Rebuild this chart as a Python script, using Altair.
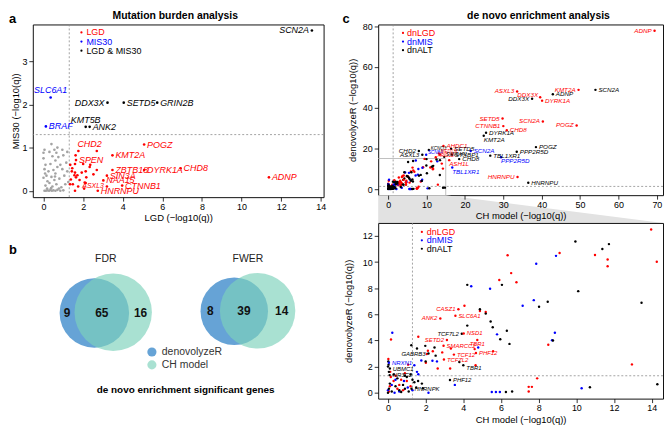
import altair as alt
import pandas as pd

FONT = "Liberation Sans"
NARROW = "Liberation Sans Narrow, Liberation Sans"
RED, BLUE, BLACK, GRAY = "#ff0000", "#0000ff", "#000000", "#a3a3a3"
VENN_BLUE, VENN_TEAL, VENN_TEAL_KEY = "#66a3d6", "#7dd2bb", "#a9e1d2"

# ---------------- panel a : mutation burden (LGD vs MIS30) ----------------
a_gene = ["SCN2A", "SLC6A1", "BRAF", "DDX3X", "SETD5", "GRIN2B", "KMT5B", "ANK2",
          "POGZ", "CHD2", "SPEN", "KMT2A", "ZBTB18", "DYRK1A", "CHD8", "ADNP",
          "SIN3A", "NAA15", "CTNNB1", "ASXL3", "HNRNPU"]
a_lgd = [13.55, 0.36, 0.12, 3.23, 4.05, 5.74, 2.13, 2.33, 5.08, 1.76, 1.64, 3.48,
         3.48, 5.08, 6.92, 11.38, 3.20, 3.02, 3.97, 3.20, 2.74]
a_mis = [3.71, 2.16, 1.49, 2.04, 2.04, 2.04, 1.48, 1.48, 1.07, 0.92, 0.71, 0.82,
         0.48, 0.48, 0.52, 0.31, 0.35, 0.24, 0.12, 0.10, 0.00]
a_set = (["LGD & MIS30", "MIS30", "MIS30", "LGD & MIS30", "LGD & MIS30", "LGD & MIS30",
          "LGD & MIS30", "LGD & MIS30"] + ["LGD"] * 13)
a_side = ["l", "u", "r", "l", "r", "r", "u", "r", "r", "ur", "r", "r", "r", "r", "r",
          "r", "r", "r", "r", "ls", "r"]

a_lgd_only_x = [2.69, 1.62, 1.59, 1.35, 2.00, 2.36, 2.33, 2.69, 1.43, 1.59, 1.93, 1.56, 1.71,
                1.64, 2.13, 2.16, 1.38, 2.08, 2.13, 1.34, 1.48, 2.05, 1.59, 1.82, 2.52, 1.45, 1.75]
a_lgd_only_y = [0.92, 0.82, 0.62, 0.60, 0.62, 0.60, 0.55, 0.48, 0.45, 0.42, 0.42, 0.36, 0.36,
                0.31, 0.45, 0.31, 0.26, 0.19, 0.18, 0.15, 0.15, 0.05, 0.00, 0.25, 0.38, 0.52, 0.10]

a_ns_x = [0.05, 0.12, 0.20, 0.28, 0.35, 0.42, 0.50, 0.60, 0.70, 0.85, 1.00,
          0.10, 0.30, 0.45, 0.65, 0.90, 1.10, 0.20, 0.55,
          0.00, 0.15, 0.40, 0.60, 0.80, 1.05, 1.20, 0.25, 0.50, 0.95, 0.05, 0.70,
          0.10, 0.35, 0.60, 0.85, 1.15, 0.00, 0.45, 0.75, 1.00,
          0.05, 0.30, 0.40, 0.55, 0.70, 0.95, 1.20, 0.00, 0.65,
          0.18, 0.38, 0.78, 1.25, 0.08, 0.58]
a_ns_y = [0.00, 0.00, 0.01, 0.00, 0.02, 0.00, 0.01, 0.00, 0.02, 0.00, 0.01,
          0.12, 0.18, 0.10, 0.15, 0.08, 0.15, 0.22, 0.25,
          0.30, 0.35, 0.32, 0.40, 0.28, 0.35, 0.45, 0.45, 0.48, 0.50, 0.50, 0.55,
          0.60, 0.62, 0.70, 0.60, 0.65, 0.75, 0.80, 0.78, 0.82,
          0.95, 0.90, 1.08, 0.95, 1.00, 0.95, 0.90, 0.88, 0.88,
          0.05, 0.06, 0.05, 0.20, 0.40, 0.33]

a_legend = ["LGD", "MIS30", "LGD & MIS30"]

# ---------------- panel b : Venn counts ----------------
venn_sets = ["FDR", "FWER"]
venn_only_dnr = [9, 8]
venn_both = [65, 39]
venn_only_ch = [16, 14]
venn_groups = ["denovolyzeR", "CH model"]

# ---------------- panel c : de novo enrichment (CH model vs denovolyzeR) ----------------
c_legend = ["dnLGD", "dnMIS", "dnALT"]

c_top_labels = [
    ("ADNP", "dnLGD", 69.4, 77.7, "l"), ("ASXL3", "dnLGD", 33.6, 47.9, "l"),
    ("KMT2A", "dnLGD", 49.6, 48.7, "l"), ("SCN2A", "dnALT", 54.0, 48.7, "r"),
    ("DDX3X", "dnLGD", 39.6, 45.1, "lu"), ("ADNP", "dnALT", 42.9, 46.5, "r"),
    ("DDX3X", "dnALT", 37.5, 44.3, "l"), ("DYRK1A", "dnLGD", 40.1, 43.4, "r"),
    ("SETD5", "dnLGD", 29.8, 34.6, "l"), ("SCN2A", "dnLGD", 40.3, 33.2, "l"),
    ("POGZ", "dnLGD", 49.1, 31.2, "l"), ("CTNNB1", "dnLGD", 30.0, 30.9, "l"),
    ("CHD8", "dnLGD", 30.9, 28.9, "r"), ("DYRK1A", "dnALT", 25.5, 27.6, "r"),
    ("KMT2A", "dnALT", 24.9, 26.2, "d"), ("POGZ", "dnALT", 38.5, 20.6, "r"),
    ("PPP2R5D", "dnALT", 33.5, 18.3, "r"), ("TBL1XR1", "dnALT", 26.6, 16.4, "r"),
    ("PPP2R5D", "dnMIS", 29.4, 15.6, "d"), ("HNRNPU", "dnLGD", 33.7, 5.9, "l"),
    ("HNRNPU", "dnALT", 36.5, 3.1, "r"), ("AHDC1", "dnLGD", 14.4, 21.1, "r"),
    ("SETD5", "dnALT", 16.4, 19.8, "r"), ("SCN2A", "dnMIS", 21.5, 18.7, "r"),
    ("CHD2", "dnALT", 8.0, 18.7, "l"), ("ASXL3", "dnALT", 8.9, 16.8, "l"),
    ("STXBP1", "dnALT", 16.6, 16.9, "r"), ("ASH1L", "dnLGD", 15.9, 14.2, "d"),
    ("CHD8", "dnALT", 18.5, 14.7, "r"), ("TBL1XR1", "dnMIS", 16.7, 10.6, "d"),
    ("KCNQ3", "dnALT", 10.6, 19.2, "t"), ("SCN8A", "dnMIS", 9.9, 16.8, "t"),
    ("ARID1B", "dnLGD", 12.4, 15.6, "t"), ("MED13L", "dnLGD", 13.2, 17.5, "t"),
    ("SYNGAP1", "dnALT", 14.6, 15.8, "t"),
]

c_bottom_labels = [
    ("CASZ1", "dnLGD", 3.74, 6.39, "l"), ("SLC6A1", "dnLGD", 3.58, 5.89, "r"),
    ("ANK2", "dnLGD", 2.78, 5.69, "l"), ("TCF7L2", "dnALT", 3.92, 4.52, "l"),
    ("NSD1", "dnLGD", 4.02, 4.54, "r"), ("SETD2", "dnLGD", 3.13, 4.04, "l"),
    ("TBR1", "dnLGD", 4.74, 4.04, "dc"), ("SMARCC2", "dnLGD", 2.95, 3.60, "r"),
    ("TCF12", "dnLGD", 3.50, 2.92, "r"), ("PHF12", "dnLGD", 4.67, 3.04, "r"),
    ("TCF7L2", "dnLGD", 2.97, 2.54, "r"), ("GABRB3", "dnALT", 2.15, 3.00, "l"),
    ("TBR1", "dnALT", 4.00, 2.10, "rd"), ("NRXN1", "dnMIS", 0.05, 2.30, "r"),
    ("UBMC1", "dnALT", 0.10, 1.85, "r"), ("NR3C2", "dnALT", 0.09, 1.35, "r"),
    ("PHF12", "dnALT", 3.29, 0.97, "r"), ("HNRNPK", "dnALT", 1.25, 0.30, "r"),
]

c_lgd_pts = [(13.97, 12.5), (9.11, 10.7), (6.35, 10.53), (10.99, 10.55), (11.66, 10.2),
             (14.27, 10.03), (11.66, 9.68), (6.54, 9.16), (5.91, 8.63), (6.82, 8.46),
             (4.06, 6.66), (4.88, 6.26), (5.19, 6.19), (0.16, 4.07), (1.61, 4.29),
             (8.51, 3.67), (4.60, 3.34), (3.34, 3.39), (5.58, 3.17), (2.12, 3.22),
             (2.38, 3.17), (2.06, 2.97), (2.88, 3.09), (2.01, 2.30), (2.64, 1.85),
             (3.30, 1.85), (4.65, 2.10), (12.95, 2.17), (1.07, 2.15), (0.02, 2.59),
             (0.12, 1.60), (7.92, 1.10), (7.47, 0.45), (7.64, 0.45), (7.47, 0.10),
             (0.05, 0.10), (0.10, 0.50), (0.30, 0.90), (0.50, 0.30), (0.70, 1.00),
             (0.80, 0.20), (1.00, 0.90), (1.20, 0.50), (0.15, 1.20), (0.60, 0.60),
             (0.90, 1.50), (0.40, 1.30), (11.2, 13.6), (9.5, 14.8), (13.5, 17.0)]
c_mis_pts = [(8.92, 10.48), (7.87, 9.88), (4.42, 8.16), (5.42, 7.96), (7.74, 7.09),
             (7.15, 6.66), (5.79, 4.47), (0.23, 4.59), (8.86, 4.59), (8.71, 4.02),
             (4.79, 3.47), (1.77, 2.47), (2.36, 2.45), (2.60, 2.40), (1.40, 2.10),
             (1.61, 1.42), (1.54, 1.60), (3.55, 0.60), (10.28, 0.35), (5.51, 0.05),
             (5.73, 0.05), (5.94, 0.05), (2.15, 0.00), (0.00, 0.20), (0.20, 0.60),
             (0.40, 1.00), (0.60, 0.10), (0.85, 0.90), (1.05, 0.40), (1.30, 0.20),
             (0.35, 0.00), (12.8, 13.6), (7.2, 14.0)]
c_alt_pts = [(9.95, 11.58), (11.73, 11.38), (11.38, 11.0), (4.21, 8.26), (6.05, 8.26),
             (10.10, 7.78), (8.48, 6.96), (13.46, 6.89), (8.02, 6.59), (4.88, 6.39),
             (5.19, 6.06), (4.21, 5.14), (5.45, 5.46), (5.56, 5.01), (6.31, 4.74),
             (8.76, 4.00), (5.96, 4.09), (6.45, 3.74), (1.24, 3.64), (1.54, 3.39),
             (1.98, 3.59), (2.47, 3.47), (2.53, 2.84), (2.00, 2.40), (3.79, 2.35),
             (0.03, 2.15), (10.72, 0.42), (14.30, 0.65), (14.79, 0.70), (6.26, 0.05),
             (6.59, 0.10), (1.85, 0.35), (0.00, 0.00), (0.05, 0.30), (0.10, 0.70),
             (0.20, 0.10), (0.40, 0.50), (0.50, 1.10), (0.60, 0.20), (0.80, 0.60),
             (0.90, 0.30), (1.00, 1.20), (1.10, 0.10), (1.30, 1.00), (1.40, 0.80),
             (1.50, 0.40), (0.30, 1.40), (0.05, 1.60), (0.00, 2.00), (0.90, 1.30),
             (1.20, 1.40), (0.70, 0.05), (0.02, 2.40), (1.60, 0.90), (1.80, 0.70),
             (12.6, 14.5), (6.5, 13.8), (10.0, 14.7), (13.5, 14.2), (5.2, 13.3)]

# ---------------- layout / style (not data) ----------------
WA, HA = 293, 174
WB, HB = 293, 172
WC, HC1, HC2 = 287, 172, 177
ROW_GAP, COL_GAP = 26, 55
GAP_C = HA + ROW_GAP - HC1
A_X, A_Y = [-0.54, 14.14], [-0.148, 3.85]
CT_X, CT_Y = [-2.6, 71.6], [-3.0, 80.8]
CB_X, CB_Y = [-0.52, 14.6], [-0.45, 13.0]
ZOOM_EDGE = 15
SIG = 1.3

SIDE_STYLE = {
    "r": ("left", 3, 0), "l": ("right", -3, 0), "u": ("center", 0, -7),
    "ur": ("left", -1, -7), "d": ("left", 0, 6), "dc": ("center", 0, 6),
    "lu": ("right", -2, -3), "rd": ("left", 3, 4), "ls": ("right", -3, 0),
    "t": ("left", 2, -2),
}


def enc_x(dom, ticks, title):
    return alt.X("x:Q", scale=alt.Scale(domain=dom, nice=False, zero=False),
                 axis=alt.Axis(values=ticks, title=title))


def enc_y(dom, ticks, title, tpad):
    return alt.Y("y:Q", scale=alt.Scale(domain=dom, nice=False, zero=False),
                 axis=alt.Axis(values=ticks, title=title, titlePadding=tpad, labelPadding=2))


def text_at(txt, x, y, size, color=BLACK, weight="normal", align="left", font=FONT):
    return alt.Chart(pd.DataFrame({"t": [txt]})).mark_text(
        align=align, baseline="middle", font=font, fontSize=size, fontWeight=weight,
        color=color).encode(x=alt.value(x), y=alt.value(y), text="t:N")


def dot_at(x, y, color):
    return alt.Chart(pd.DataFrame({"t": [0]})).mark_circle(
        size=5, color=color, opacity=1).encode(x=alt.value(x), y=alt.value(y))


def legend_layers(labels, colors, xm, xt, y0, dy):
    out = []
    for i, (lab, col) in enumerate(zip(labels, colors)):
        out.append(dot_at(xm, y0 + i * dy, col))
        out.append(text_at(lab, xt, y0 + i * dy, 9, col, font=NARROW))
    return out


def label_layers(df, xe, ye, color, fs, small, k, clip):
    out = []
    for side in df["side"].unique():
        align, dx, dy = SIDE_STYLE[side]
        size = small.get(side, fs)
        out.append(alt.Chart(df[df["side"] == side]).mark_text(
            align=align, baseline="middle", dx=dx, dy=dy * k, font=NARROW, fontSize=size,
            fontStyle="italic", clip=clip).encode(x=xe, y=ye, text="gene:N", color=color))
    return out


def rule_layers(xe, ye, clip):
    style = dict(color="#8c8c8c", strokeDash=[2, 2], strokeWidth=0.8, clip=clip)
    return [alt.Chart(pd.DataFrame({"x": [SIG]})).mark_rule(**style).encode(x=xe),
            alt.Chart(pd.DataFrame({"y": [SIG]})).mark_rule(**style).encode(y=ye)]


def header(txt, letter, w, dx_title, x_letter):
    return [text_at(txt, w / 2 + dx_title, -9, 10.5, weight="bold", align="center"),
            text_at(letter, x_letter, -5, 13, weight="bold")]


# ---------------- panel a ----------------
df_a = pd.concat([
    pd.DataFrame({"x": a_ns_x, "y": a_ns_y, "set": "none"}),
    pd.DataFrame({"x": a_lgd_only_x, "y": a_lgd_only_y, "set": "LGD"}),
    pd.DataFrame({"x": a_lgd, "y": a_mis, "set": a_set}),
], ignore_index=True)
df_a_lab = pd.DataFrame({"x": a_lgd, "y": a_mis, "set": a_set, "gene": a_gene, "side": a_side})
col_a = alt.Color("set:N", legend=None, scale=alt.Scale(
    domain=["none", "LGD", "MIS30", "LGD & MIS30"], range=[GRAY, RED, BLUE, BLACK]))
xa = enc_x(A_X, list(range(0, 15, 2)), "LGD (\u2212log10(q))")
ya = enc_y(A_Y, [0, 1, 2, 3], "MIS30 (\u2212log10(q))", 1)

chart_a = alt.layer(
    *rule_layers(xa, ya, False),
    alt.Chart(df_a).mark_circle(size=7, opacity=1).encode(x=xa, y=ya, color=col_a),
    *label_layers(df_a_lab, xa, ya, col_a, 9, {"ls": 7}, 1.0, False),
    *legend_layers(a_legend, [RED, BLUE, BLACK], 49, 54, 8, 9.2),
    *header("Mutation burden analysis", "a", WA, -3, -24),
).properties(width=WA, height=HA)

# ---------------- panel b (Venn diagrams, pixel canvas) ----------------
venn_geo = {  # blue circle (cx, cy, r), teal circle (cx, cy, r)
    "FDR": ((62, 90.7, 35), (81, 90, 39)),
    "FWER": ((203, 89, 34), (226.5, 88.5, 38)),
}
bx = alt.X("x:Q", scale=alt.Scale(domain=[0, WB], nice=False, zero=False), axis=None)
by = alt.Y("y:Q", scale=alt.Scale(domain=[0, HB], nice=False, zero=False, reverse=True), axis=None)

circ_blue = pd.DataFrame([{"x": venn_geo[s][0][0], "y": venn_geo[s][0][1],
                           "s": 4 * venn_geo[s][0][2] ** 2} for s in venn_sets])
circ_teal = pd.DataFrame([{"x": venn_geo[s][1][0], "y": venn_geo[s][1][1],
                           "s": 4 * venn_geo[s][1][2] ** 2} for s in venn_sets])
count_rows, title_rows = [], []
for i, s in enumerate(venn_sets):
    (bcx, bcy, br), (tcx, tcy, tr) = venn_geo[s]
    yy = (bcy + tcy) / 2
    edges = [bcx - br, tcx - tr, bcx + br, tcx + tr]
    for val, a0, a1 in [(venn_only_dnr[i], edges[0], edges[1]),
                        (venn_both[i], edges[1], edges[2]),
                        (venn_only_ch[i], edges[2], edges[3])]:
        count_rows.append({"x": (a0 + a1) / 2, "y": yy, "t": str(val)})
    title_rows.append({"x": (edges[0] + edges[3]) / 2, "y": 36, "t": s})
key_rows = pd.DataFrame({"x": [120, 120], "y": [130, 143], "g": venn_groups})

chart_b = alt.layer(
    alt.Chart(circ_blue).mark_circle(color=VENN_BLUE, opacity=1).encode(
        x=bx, y=by, size=alt.Size("s:Q", scale=None)),
    alt.Chart(circ_teal).mark_circle(color=VENN_TEAL, opacity=0.66).encode(
        x=bx, y=by, size=alt.Size("s:Q", scale=None)),
    alt.Chart(pd.DataFrame(count_rows)).mark_text(
        font=FONT, fontSize=12, fontWeight="bold", color="#111111").encode(x=bx, y=by, text="t:N"),
    alt.Chart(pd.DataFrame(title_rows)).mark_text(
        font=FONT, fontSize=10.5, color="#222222").encode(x=bx, y=by, text="t:N"),
    alt.Chart(key_rows).mark_circle(size=85, opacity=1).encode(
        x=bx, y=by, color=alt.Color("g:N", legend=None, scale=alt.Scale(
            domain=venn_groups, range=[VENN_BLUE, VENN_TEAL_KEY]))),
    alt.Chart(key_rows).mark_text(align="left", dx=10, font=FONT, fontSize=10.5,
                                  color="#333333").encode(x=bx, y=by, text="g:N"),
    text_at("de novo enrichment significant genes", 154, 168, 10, weight="bold", align="center"),
    text_at("b", -24, 27, 13, weight="bold"),
).properties(width=WB, height=HB, view=alt.ViewBackground(strokeOpacity=0))

# ---------------- panel c data frames ----------------
rows = []
for typ, pts in [("dnLGD", c_lgd_pts), ("dnMIS", c_mis_pts), ("dnALT", c_alt_pts)]:
    rows += [{"x": x, "y": y, "type": typ} for x, y in pts]
for lst in (c_top_labels, c_bottom_labels):
    rows += [{"x": x, "y": y, "type": t} for _, t, x, y, _ in lst]
df_c = pd.DataFrame(rows)
df_ct_lab = pd.DataFrame(c_top_labels, columns=["gene", "type", "x", "y", "side"])
df_cb_lab = pd.DataFrame(c_bottom_labels, columns=["gene", "type", "x", "y", "side"])
col_c = alt.Color("type:N", legend=None, scale=alt.Scale(domain=c_legend, range=[RED, BLUE, BLACK]))

# top: full range
xct = alt.X("x:Q", scale=alt.Scale(domain=CT_X, nice=False, zero=False),
            axis=alt.Axis(values=list(range(0, 71, 10)), title="CH model (\u2212log10(q))", zindex=1))
yct = enc_y(CT_Y, [0, 20, 40, 60, 80], "denovolyzeR (\u2212log10(q))", 5)
trap_y = CT_Y[0] - GAP_C * (CT_Y[1] - CT_Y[0]) / HC1
trap = pd.DataFrame({"y": [CT_Y[0], trap_y], "x": [CT_X[0], CT_X[0]], "x2": [ZOOM_EDGE, CT_X[1]]})

chart_ct = alt.layer(
    alt.Chart(trap).mark_area(orient="horizontal", color="#e2e2e2", clip=False).encode(
        y=yct, x=alt.X("x:Q", stack=False, scale=alt.Scale(domain=CT_X, nice=False, zero=False)),
        x2="x2:Q"),
    alt.Chart(pd.DataFrame({"x": [CT_X[0]], "x2": [ZOOM_EDGE], "y": [ZOOM_EDGE]})).mark_rule(
        color="#b0b0b0", strokeWidth=0.8).encode(x=xct, x2="x2:Q", y=yct),
    alt.Chart(pd.DataFrame({"x": [ZOOM_EDGE], "y": [CT_Y[0]], "y2": [ZOOM_EDGE]})).mark_rule(
        color="#b0b0b0", strokeWidth=0.8).encode(x=xct, y=yct, y2="y2:Q"),
    *rule_layers(xct, yct, False),
    alt.Chart(df_c).mark_circle(size=6, opacity=1).encode(x=xct, y=yct, color=col_c),
    *label_layers(df_ct_lab, xct, yct, col_c, 6.3, {"t": 4.5}, 0.7, False),
    *legend_layers(c_legend, [RED, BLUE, BLACK], 25, 29, 8.5, 8.7),
    *header("de novo enrichment analysis", "c", WC, 18, -36),
).properties(width=WC, height=HC1)

# bottom: zoom on the lower-left corner
xcb = enc_x(CB_X, list(range(0, 15, 2)), "CH model (\u2212log10(q))")
ycb = enc_y(CB_Y, list(range(0, 13, 2)), "denovolyzeR (\u2212log10(q))", 9)

chart_cb = alt.layer(
    *rule_layers(xcb, ycb, True),
    alt.Chart(df_c).mark_circle(size=6, opacity=1, clip=True).encode(x=xcb, y=ycb, color=col_c),
    *label_layers(df_cb_lab, xcb, ycb, col_c, 6, {}, 0.7, True),
    *legend_layers(c_legend, [RED, BLUE, BLACK], 44, 49, 9, 8.5),
).properties(width=WC, height=HC2)

chart = alt.concat(
    chart_a, chart_ct, chart_b, chart_cb, columns=2,
    spacing={"row": ROW_GAP, "column": COL_GAP}, bounds="flush", align="each",
    padding=0, background="white",
).resolve_scale(color="independent").configure_axis(
    labelFont=FONT, labelFontSize=9, labelColor=BLACK, titleFont=FONT, titleFontSize=9.5,
    titleFontWeight="normal", titleColor=BLACK, tickColor=BLACK, tickSize=4, tickWidth=0.8,
    domain=False, grid=False, labelFlush=False, labelPadding=1, titlePadding=2,
).configure_view(stroke="#111111", strokeWidth=1)

chart.save("out.html", embed_options={"renderer": "svg", "actions": False})
